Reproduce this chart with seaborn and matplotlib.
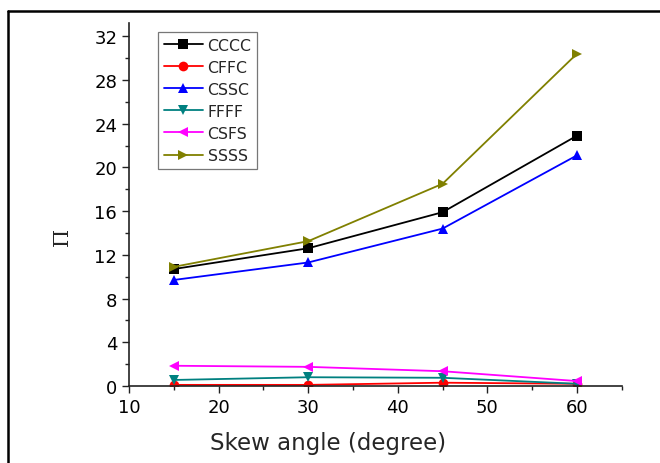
import numpy as np
import pandas as pd
import matplotlib
matplotlib.use("Agg")
import matplotlib.pyplot as plt
import seaborn as sns
from matplotlib.ticker import MultipleLocator
from matplotlib.lines import Line2D

angles = [15, 30, 45, 60]
series_names = ["CCCC", "CFFC", "CSSC", "FFFF", "CSFS", "SSSS"]
cccc = [10.7, 12.6, 15.9, 22.9]
cffc = [0.1, 0.1, 0.3, 0.2]
cssc = [9.7, 11.3, 14.4, 21.1]
ffff = [0.55, 0.8, 0.75, 0.2]
csfs = [1.85, 1.75, 1.35, 0.45]
ssss = [10.9, 13.25, 18.5, 30.4]

values = [cccc, cffc, cssc, ffff, csfs, ssss]
colors = ["#000000", "#ff0000", "#0000ff", "#008080", "#ff00ff", "#808000"]
markers = ["s", "o", "^", "v", "<", ">"]

rows = []
for name, vals in zip(series_names, values):
    for a, v in zip(angles, vals):
        rows.append({"angle": a, "value": v, "series": name})
df = pd.DataFrame(rows)

sns.set_style("ticks")
plt.rcParams['font.family'] = ['DejaVu Sans']

fig = plt.figure(figsize=(6.6, 4.64), dpi=100)
ax = fig.add_axes([0.1955, 0.166, 0.7465, 0.782])

sns.lineplot(data=df, x="angle", y="value", hue="series", style="series",
             hue_order=series_names, style_order=series_names,
             palette=dict(zip(series_names, colors)),
             markers=dict(zip(series_names, markers)), dashes=False,
             markersize=7, markeredgewidth=0, linewidth=1.3, ax=ax)

ax.set_xlim(10, 65)
ax.set_ylim(0, 33.2)
ax.xaxis.set_major_locator(MultipleLocator(10))
ax.xaxis.set_minor_locator(MultipleLocator(5))
ax.yaxis.set_major_locator(MultipleLocator(4))
ax.yaxis.set_minor_locator(MultipleLocator(2))
ax.tick_params(which="major", direction="out", length=5, width=1, labelsize=13, colors="#222222", labelcolor="black")
ax.tick_params(which="minor", direction="out", length=3, width=1, colors="#222222")
for s in ["top", "right"]:
    ax.spines[s].set_visible(False)
for s in ["left", "bottom"]:
    ax.spines[s].set_linewidth(1.2)
    ax.spines[s].set_color("#222222")

ax.set_xlabel("Skew angle (degree)", fontsize=16.5)
ax.xaxis.set_label_coords(0.404, -0.125)
ax.set_ylabel("Π", fontsize=15, family="DejaVu Serif")
ax.yaxis.set_label_coords(-0.115, 0.413)

leg = ax.legend(loc="upper left", bbox_to_anchor=(0.048, 0.99), fontsize=11.3,
                frameon=True, fancybox=False, handlelength=2.5, handletextpad=0.3,
                borderpad=0.35, labelspacing=0.45, borderaxespad=0.35)
leg.get_frame().set_edgecolor("#555555")
leg.get_frame().set_linewidth(0.9)

# outer frame lines (left and top) of the figure
fig.add_artist(Line2D([8/660, 8/660], [0, 1-12/464], transform=fig.transFigure, color="black", lw=1.8))
fig.add_artist(Line2D([8/660, 1], [1-12/464, 1-12/464], transform=fig.transFigure, color="black", lw=1.8))

fig.savefig("out.png", dpi=100)
